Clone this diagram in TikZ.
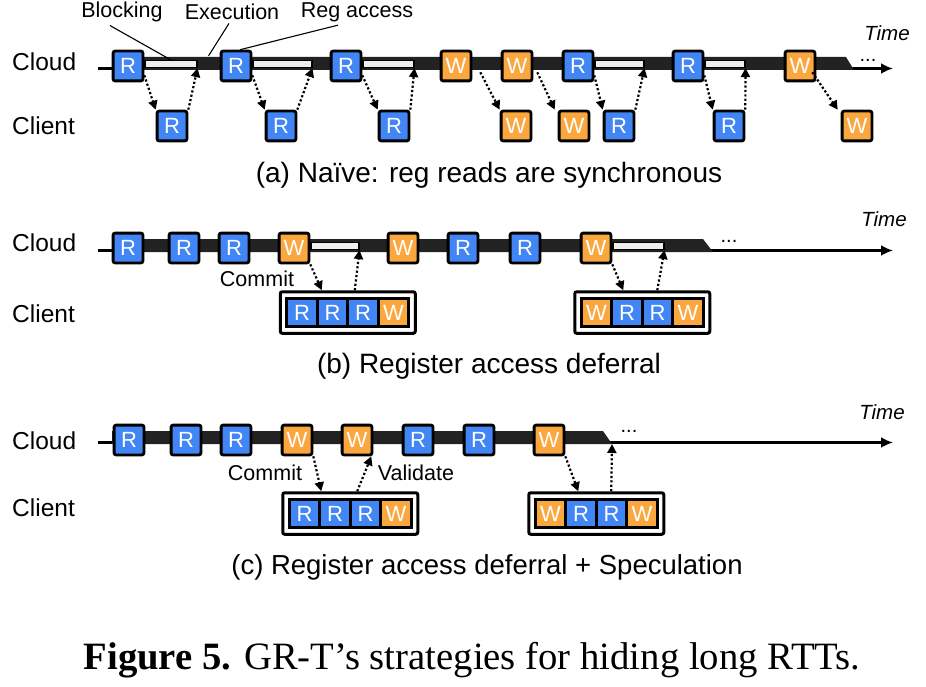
\documentclass[tikz,border=0pt]{standalone}
\usepackage{fontspec}
\setmainfont{Liberation Sans}
\newfontfamily\capfont{Liberation Serif}
\usetikzlibrary{positioning,fit,arrows.meta}
\definecolor{regblue}{HTML}{4285F4}
\definecolor{wrorange}{HTML}{FBA73F}
\definecolor{bandgray}{HTML}{222222}
\definecolor{blockfill}{HTML}{EEEEEE}
\tikzstyle{regbox} = [draw=black, fill=regblue, line width=2.8pt,
    rounded corners=2pt, minimum size=29.8pt, inner sep=0pt,
    text=white, font=\fontsize{22}{22}\selectfont]
\tikzstyle{wrbox} = [regbox, fill=wrorange]
\tikzstyle{qreg} = [regbox, rounded corners=0pt, outer sep=0pt,
    minimum width=30.5pt, minimum height=28.5pt]
\tikzstyle{qwr} = [qreg, fill=wrorange]
\tikzstyle{queue} = [draw=black, line width=3pt, rounded corners=2pt, inner sep=6.5pt]
\tikzstyle{blockbar} = [draw=black, fill=blockfill, line width=1.2pt,
    minimum height=7pt, inner sep=0pt, anchor=west]
\tikzstyle{timeline} = [line width=2.5pt, -{Latex[length=12pt,width=11pt]}]
\tikzstyle{msg} = [line width=2.2pt, dash pattern=on 2.2pt off 2.2pt,
    -{Triangle[length=9pt,width=9pt]}]
\tikzstyle{lane} = [font=\fontsize{24.5}{24.5}\selectfont, anchor=west, inner sep=0pt]
\tikzstyle{note} = [font=\fontsize{21.5}{21.5}\selectfont]
\tikzstyle{timelabel} = [font=\fontsize{20.5}{20.5}\selectfont\itshape]
\tikzstyle{subcap} = [font=\fontsize{28}{28}\selectfont]
\tikzstyle{leader} = [line width=1.1pt]
\tikzstyle{etc} = [font=\fontsize{20}{20}\selectfont, inner sep=0pt]

\begin{document}
\begin{tikzpicture}[x=1pt,y=-1pt]
\useasboundingbox (0,0) rectangle (926,687);

% (a) naive
\node[lane] (acloud) at (12,62) {Cloud};
\node[lane] (aclient) at (12,126) {Client};
\draw[timeline] (98,68.5) -- (893,68.5);
\fill[bandgray] (112,57) -- (846,57) -- (854,70) -- (112,70) -- cycle;
\node[timelabel] (atime) at (887,33) {Time};
\node[etc] (adots) at (868,60) {...};
\node[regbox] (ar1) at (128,66) {R};
\node[regbox] (ar2) at (236,66) {R};
\node[regbox] (ar3) at (346,66) {R};
\node[wrbox] (aw1) at (456,66) {W};
\node[wrbox] (aw2) at (517,66) {W};
\node[regbox] (ar4) at (578,66) {R};
\node[regbox] (ar5) at (688,66) {R};
\node[wrbox] (aw3) at (800,66) {W};
\node[blockbar, minimum width=52pt] (ab1) at ([yshift=2pt]ar1.east) {};
\node[blockbar, minimum width=59pt] (ab2) at ([yshift=2pt]ar2.east) {};
\node[blockbar, minimum width=51pt] (ab3) at ([yshift=2pt]ar3.east) {};
\node[blockbar, minimum width=49pt] (ab4) at ([yshift=2pt]ar4.east) {};
\node[blockbar, minimum width=40pt] (ab5) at ([yshift=2pt]ar5.east) {};
\node[regbox] (al1) at (172,126) {R};
\node[regbox] (al2) at (281,126) {R};
\node[regbox] (al3) at (394,126) {R};
\node[wrbox] (al4) at (516,126) {W};
\node[wrbox] (al5) at (574,126) {W};
\node[regbox] (al6) at (619,126) {R};
\node[regbox] (al7) at (729,126) {R};
\node[wrbox] (al8) at (857,126) {W};
\draw[msg] ([yshift=7pt]ar1.south east) -- (al1.north west);
\draw[msg] (al1.north east) -- (ab1.south east);
\draw[msg] ([yshift=7pt]ar2.south east) -- (al2.north west);
\draw[msg] (al2.north east) -- (ab2.south east);
\draw[msg] ([yshift=7pt]ar3.south east) -- (al3.north west);
\draw[msg] (al3.north east) -- (ab3.south east);
\draw[msg] ([xshift=8pt,yshift=10pt]aw1.south east) -- (al4.north west);
\draw[msg] ([xshift=4pt,yshift=10pt]aw2.south east) -- ([xshift=-3pt]al5.north west);
\draw[msg] ([yshift=7pt]ar4.south east) -- (al6.north west);
\draw[msg] (al6.north east) -- (ab4.south east);
\draw[msg] ([yshift=7pt]ar5.south east) -- (al7.north west);
\draw[msg] (al7.north east) -- (ab5.south east);
\draw[msg] ([xshift=-4pt,yshift=10pt]aw3.south east) -- ([xshift=-3pt]al8.north west);
\node[note] (lblock) at (122,12) {Blocking};
\node[note] (lexec) at (232,12) {Execution};
\node[note] (lreg) at (357,12) {Reg access};
\draw[leader] ([xshift=-12pt]lblock.south) -- (ab1.north);
\draw[leader] ([xshift=-3pt]lexec.south) -- ([xshift=11pt,yshift=4pt]ab1.north east);
\draw[leader] ([xshift=-19pt]lreg.south) -- ([xshift=4pt]ar2.north);
\node[subcap] (acap) at (489,175) {(a) Naïve: reg reads are synchronous};

% (b) deferral
\node[lane] (bcloud) at (12,243) {Cloud};
\node[lane] (bclient) at (12,314) {Client};
\draw[timeline] (98,250.5) -- (893,250.5);
\fill[bandgray] (112,239) -- (703,239) -- (713,252) -- (112,252) -- cycle;
\node[timelabel] (btime) at (884,219) {Time};
\node[etc] (bdots) at (729,241) {...};
\node[regbox] (br1) at (128,248) {R};
\node[regbox] (br2) at (184,248) {R};
\node[regbox] (br3) at (234,248) {R};
\node[wrbox] (bw1) at (294,248) {W};
\node[wrbox] (bw2) at (403,248) {W};
\node[regbox] (br4) at (463,248) {R};
\node[regbox] (br5) at (525,248) {R};
\node[wrbox] (bw3) at (596,248) {W};
\node[blockbar, minimum width=48pt] (bb1) at ([yshift=2pt]bw1.east) {};
\node[blockbar, minimum width=51pt] (bb2) at ([yshift=2pt]bw3.east) {};
\node[qreg] (bg1a) at (302,312.5) {R};
\node[qreg, right=0pt of bg1a] (bg1b) {R};
\node[qreg, right=0pt of bg1b] (bg1c) {R};
\node[qwr, right=0pt of bg1c] (bg1d) {W};
\node[queue, fit=(bg1a)(bg1d)] (bg1) {};
\node[qwr] (bg2a) at (596.5,312.5) {W};
\node[qreg, right=0pt of bg2a] (bg2b) {R};
\node[qreg, right=0pt of bg2b] (bg2c) {R};
\node[qwr, right=0pt of bg2c] (bg2d) {W};
\node[queue, fit=(bg2a)(bg2d)] (bg2) {};
\draw[msg] (bw1.south east) -- ([xshift=43pt]bg1.north west);
\draw[msg] ([xshift=76pt]bg1.north west) -- (bb1.south east);
\draw[msg] (bw3.south east) -- ([xshift=50pt]bg2.north west);
\draw[msg] ([xshift=84pt]bg2.north west) -- (bb2.south east);
\node[note] (bcommit) at (257,279) {Commit};
\node[subcap] (bcap) at (489,366) {(b) Register access deferral};

% (c) deferral + speculation
\node[lane] (ccloud) at (12,441) {Cloud};
\node[lane] (cclient) at (12,508) {Client};
\draw[timeline] (98,442.5) -- (893,442.5);
\fill[bandgray] (112,431) -- (603,431) -- (612,444) -- (112,444) -- cycle;
\coordinate (cend) at (612,444);
\node[timelabel] (ctime) at (882,412) {Time};
\node[etc] (cdots) at (629,431) {...};
\node[regbox] (cr1) at (129,440) {R};
\node[regbox] (cr2) at (186,440) {R};
\node[regbox] (cr3) at (236,440) {R};
\node[wrbox] (cw1) at (297,440) {W};
\node[wrbox] (cw2) at (357,440) {W};
\node[regbox] (cr4) at (418,440) {R};
\node[regbox] (cr5) at (479,440) {R};
\node[wrbox] (cw3) at (549,440) {W};
\node[qreg] (cg1a) at (304.5,513.5) {R};
\node[qreg, right=0pt of cg1a] (cg1b) {R};
\node[qreg, right=0pt of cg1b] (cg1c) {R};
\node[qwr, right=0pt of cg1c] (cg1d) {W};
\node[queue, fit=(cg1a)(cg1d)] (cg1) {};
\node[qwr] (cg2a) at (550.5,513.5) {W};
\node[qreg, right=0pt of cg2a] (cg2b) {R};
\node[qreg, right=0pt of cg2b] (cg2c) {R};
\node[qwr, right=0pt of cg2c] (cg2d) {W};
\node[queue, fit=(cg2a)(cg2d)] (cg2) {};
\draw[msg] (cw1.south east) -- ([xshift=40pt]cg1.north west);
\draw[msg] ([xshift=76pt]cg1.north west) -- ([xshift=-2pt]cw2.south east);
\draw[msg] (cw3.south east) -- ([xshift=51pt]cg2.north west);
\draw[msg] ([xshift=84pt]cg2.north west) -- (cend);
\node[note] (ccommit) at (265,473) {Commit};
\node[note] (cvalid) at (416,473) {Validate};
\node[subcap, font=\fontsize{27.5}{27.5}\selectfont] (ccap) at (487,567)
    {(c) Register access deferral + Speculation};

\node[font=\capfont\fontsize{38.7}{38.7}\selectfont] (figcap) at (472,660)
    {\textbf{Figure 5.} GR-T’s strategies for hiding long RTTs.};
\end{tikzpicture}
\end{document}
